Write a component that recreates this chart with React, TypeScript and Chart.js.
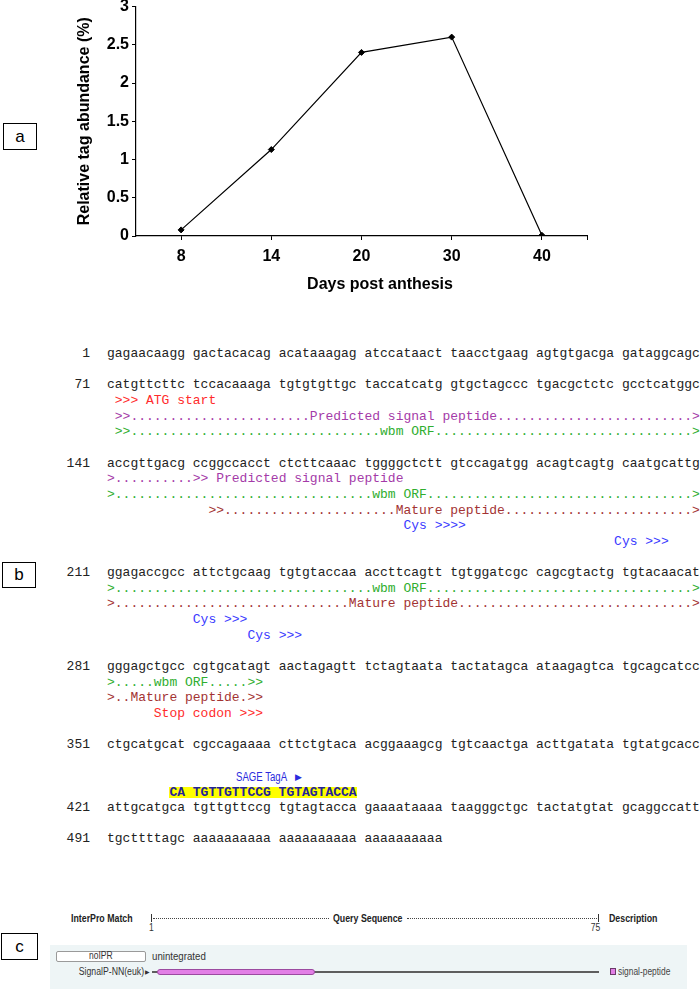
import React, { useEffect, useRef } from 'react';
import { Chart, registerables } from 'chart.js';

Chart.register(...registerables);

// ---------- chart data ----------
const days = ['8', '14', '20', '30', '40'];
const abundance = [0.08, 1.13, 2.4, 2.6, 0.01];
const yMin = 0;
const yMax = 3;
const yStep = 0.5;
const xTitle = 'Days post anthesis';
const yTitle = 'Relative tag abundance (%)';

// ---------- sequence panel data ----------
const seqNumbers = ['1', '71', '141', '211', '281', '351', '421', '491'];
const seqStrings = [
  'gagaacaagg gactacacag acataaagag atccataact taacctgaag agtgtgacga gataggcagc',
  'catgttcttc tccacaaaga tgtgtgttgc taccatcatg gtgctagccc tgacgctctc gcctcatggc',
  'accgttgacg ccggccacct ctcttcaaac tggggctctt gtccagatgg acagtcagtg caatgcattg',
  'ggagaccgcc attctgcaag tgtgtaccaa accttcagtt tgtggatcgc cagcgtactg tgtacaacat',
  'gggagctgcc cgtgcatagt aactagagtt tctagtaata tactatagca ataagagtca tgcagcatcc',
  'ctgcatgcat cgccagaaaa cttctgtaca acggaaagcg tgtcaactga acttgatata tgtatgcacc',
  'attgcatgca tgttgttccg tgtagtacca gaaaataaaa taagggctgc tactatgtat gcaggccatt',
  'tgcttttagc aaaaaaaaaa aaaaaaaaaa aaaaaaaaaa',
];
const seqRows = [0, 2, 7, 14, 20, 25, 29, 31];

const d = (n: number) => '.'.repeat(n);
const sp = (n: number) => ' '.repeat(n);

const annotations: { row: number; text: string; kind: string }[] = [
  { row: 3, text: ' >>> ATG start', kind: 'red' },
  { row: 4, text: ' >>' + d(23) + 'Predicted signal peptide' + d(25) + '>', kind: 'purple' },
  { row: 5, text: ' >>' + d(32) + 'wbm ORF' + d(33) + '>', kind: 'green' },
  { row: 8, text: '>' + d(10) + '>> Predicted signal peptide', kind: 'purple' },
  { row: 9, text: '>' + d(33) + 'wbm ORF' + d(34) + '>', kind: 'green' },
  { row: 10, text: sp(13) + '>>' + d(22) + 'Mature peptide' + d(24) + '>', kind: 'brown' },
  { row: 11, text: sp(38) + 'Cys >>>>', kind: 'blue' },
  { row: 12, text: sp(65) + 'Cys >>>', kind: 'blue' },
  { row: 15, text: '>' + d(33) + 'wbm ORF' + d(34) + '>', kind: 'green' },
  { row: 16, text: '>' + d(30) + 'Mature peptide' + d(30) + '>', kind: 'brown' },
  { row: 17, text: sp(11) + 'Cys >>>', kind: 'blue' },
  { row: 18, text: sp(18) + 'Cys >>>', kind: 'blue' },
  { row: 21, text: '>.....wbm ORF.....>>', kind: 'green' },
  { row: 22, text: '>..Mature peptide.>>', kind: 'brown' },
  { row: 23, text: sp(6) + 'Stop codon >>>', kind: 'red' },
];

const sageLabel = 'SAGE TagA';
const sageTag = 'CA TGTTGTTCCG TGTAGTACCA';

const kindColor: Record<string, string> = {
  red: '#ff2b2b',
  purple: '#a43aa8',
  green: '#2fae2f',
  brown: '#a33333',
  blue: '#3a3aff',
};

const MONO = '"Liberation Mono", "Courier New", monospace';
const SANS = '"Liberation Sans", Arial, sans-serif';
const CH = 7.8;
const SEQ_LEFT = 107;
const ROW0 = 354;
const ROWH = 15.65;
const rowTop = (r: number) => ROW0 + r * ROWH - 8;

function LabelBox({ text, left, top, w, h }: { text: string; left: number; top: number; w: number; h: number }) {
  return (
    <div
      style={{
        position: 'absolute', left, top, width: w, height: h, boxSizing: 'border-box',
        border: '1.5px solid #000', display: 'flex', alignItems: 'center', justifyContent: 'center',
        fontFamily: SANS, fontSize: 17, color: '#000', background: '#fff',
      }}
    >
      {text}
    </div>
  );
}

// condensed sans text (no narrow font installed -> horizontal scaling)
function Narrow({
  children, left, top, size = 11, bold = false, color = '#333', sx = 0.82, right = false,
}: {
  children: React.ReactNode; left: number; top: number; size?: number; bold?: boolean; color?: string; sx?: number; right?: boolean;
}) {
  return (
    <div
      style={{
        position: 'absolute', left, top, fontFamily: SANS, fontSize: size, fontWeight: bold ? 'bold' : 'normal',
        lineHeight: '14px', color, whiteSpace: 'pre', transform: `scaleX(${sx})`,
        transformOrigin: right ? 'right center' : 'left center',
        ...(right ? { left: undefined, right: 700 - left } : {}),
      }}
    >
      {children}
    </div>
  );
}

export default function App() {
  const ref = useRef<HTMLCanvasElement | null>(null);

  useEffect(() => {
    const canvas = ref.current;
    if (!canvas) return;
    const titlePlugin = {
      id: 'extras',
      afterDraw(chart: any) {
        const { ctx, chartArea } = chart;
        ctx.save();
        ctx.strokeStyle = '#000';
        ctx.lineWidth = 1;
        ctx.beginPath();
        ctx.moveTo(chartArea.right + 0.5, chartArea.bottom);
        ctx.lineTo(chartArea.right + 0.5, chartArea.bottom + 4);
        ctx.stroke();
        ctx.fillStyle = '#000';
        ctx.font = 'bold 16px ' + SANS;
        ctx.textAlign = 'center';
        ctx.textBaseline = 'middle';
        ctx.fillText(xTitle, 380, 285);
        ctx.restore();
      },
    };
    const tickFont = { family: SANS, size: 16, weight: 'bold' as const };
    const chart = new Chart(canvas, {
      type: 'line',
      data: {
        labels: days,
        datasets: [
          {
            data: abundance,
            borderColor: '#000',
            borderWidth: 1.2,
            pointStyle: 'rectRot',
            pointRadius: 3,
            pointBackgroundColor: '#000',
            pointBorderColor: '#000',
            pointBorderWidth: 1,
            tension: 0,
            fill: false,
          },
        ],
      },
      options: {
        animation: false,
        responsive: false,
        events: [],
        layout: { padding: { left: 72, right: 113, top: 6.5, bottom: 2 } },
        plugins: { legend: { display: false }, tooltip: { enabled: false } },
        scales: {
          x: {
            type: 'category',
            offset: true,
            grid: { drawOnChartArea: false, drawTicks: true, tickLength: 4, color: '#000', lineWidth: 1 },
            border: { color: '#000', width: 1.2 },
            ticks: { color: '#000', font: tickFont, padding: 7, maxRotation: 0 },
            afterFit: (s: any) => { s.height = 62; s.paddingLeft = 0; s.paddingRight = 0; },
          },
          y: {
            min: yMin,
            max: yMax,
            grid: { drawOnChartArea: false, drawTicks: true, tickLength: 4, color: '#000', lineWidth: 1 },
            border: { color: '#000', width: 1.2 },
            ticks: {
              stepSize: yStep, color: '#000', font: tickFont, padding: 3,
              callback: (v: any) => String(Number(v)),
            },
            title: {
              display: true,
              text: yTitle,
              color: '#000',
              font: { family: SANS, size: 16, weight: 'bold' },
              padding: { top: 3, bottom: 4 },
            },
            afterFit: (s: any) => { s.width = 64; s.paddingTop = 0; s.paddingBottom = 0; },
          },
        },
      },
      plugins: [titlePlugin],
    } as any);
    return () => chart.destroy();
  }, []);

  const monoBase: React.CSSProperties = {
    position: 'absolute', fontFamily: MONO, fontSize: 13, lineHeight: '16px', whiteSpace: 'pre', margin: 0,
  };

  return (
    <div style={{ position: 'absolute', left: 0, top: 0, width: 700, height: 997, background: '#fff', overflow: 'hidden' }}>
      <canvas ref={ref} width={700} height={300} style={{ position: 'absolute', left: 0, top: 0, width: 700, height: 300 }} />
      <LabelBox text="a" left={3} top={123} w={34} h={27} />
      <LabelBox text="b" left={2} top={562} w={34} h={26} />
      <LabelBox text="c" left={1} top={933} w={37} h={27} />

      {seqNumbers.map((n, i) => (
        <div key={'n' + i} style={{ ...monoBase, left: 30, width: 60, textAlign: 'right', top: rowTop(seqRows[i]), color: '#222' }}>{n}</div>
      ))}
      {seqStrings.map((s, i) => (
        <div key={'s' + i} style={{ ...monoBase, left: SEQ_LEFT, top: rowTop(seqRows[i]), color: '#222' }}>{s}</div>
      ))}
      {annotations.map((a, i) => (
        <div key={'a' + i} style={{ ...monoBase, left: SEQ_LEFT, top: rowTop(a.row), color: kindColor[a.kind] }}>{a.text}</div>
      ))}

      <Narrow left={236} top={rowTop(27) + 1} size={12} color="#2b2bdd" sx={0.8}>{sageLabel}</Narrow>
      <div style={{ position: 'absolute', left: 295, top: rowTop(27) + 1, fontFamily: SANS, fontSize: 9, lineHeight: '14px', color: '#2b2bdd' }}>▶</div>
      <div
        style={{
          ...monoBase, left: SEQ_LEFT + 8 * CH, top: rowTop(28) + 2.5, lineHeight: '11px', height: 11,
          background: '#ffff00', color: '#22229a', fontWeight: 'bold',
        }}
      >
        {sageTag}
      </div>

      {/* InterPro panel */}
      <Narrow left={71} top={911} size={11} bold color="#222" sx={0.8}>InterPro Match</Narrow>
      <div style={{ position: 'absolute', left: 151, top: 914, width: 1, height: 8, background: '#333' }} />
      <div style={{ position: 'absolute', left: 153, top: 918, width: 176, height: 0, borderTop: '1px dotted #444' }} />
      <Narrow left={333} top={911} size={11} bold color="#222" sx={0.8}>Query Sequence</Narrow>
      <div style={{ position: 'absolute', left: 407, top: 918, width: 190, height: 0, borderTop: '1px dotted #444' }} />
      <div style={{ position: 'absolute', left: 598, top: 914, width: 1, height: 8, background: '#333' }} />
      <Narrow left={149} top={921} size={10} color="#333" sx={0.85}>1</Narrow>
      <Narrow left={600} top={921} size={10} color="#333" sx={0.85} right>75</Narrow>
      <Narrow left={609} top={911} size={11} bold color="#222" sx={0.8}>Description</Narrow>

      <div style={{ position: 'absolute', left: 50, top: 945, width: 637, height: 44, background: '#eef5f6' }} />
      <div
        style={{
          position: 'absolute', left: 56, top: 951, width: 90, height: 11, boxSizing: 'border-box', background: '#fff',
          border: '1px solid #9a9a9a', borderRadius: 2,
        }}
      />
      <Narrow left={89} top={949} size={10} color="#333" sx={0.85}>noIPR</Narrow>
      <Narrow left={152} top={949} size={11} color="#333" sx={0.88}>unintegrated</Narrow>
      <Narrow left={144} top={965} size={10} color="#333" sx={0.87} right>SignalP-NN(euk)</Narrow>
      <div style={{ position: 'absolute', left: 145, top: 967, fontFamily: SANS, fontSize: 6, lineHeight: '10px', color: '#333' }}>▶</div>
      <div style={{ position: 'absolute', left: 152, top: 971, width: 447, height: 2, background: '#5e5e5e' }} />
      <div style={{ position: 'absolute', left: 157, top: 969, width: 158, height: 6, boxSizing: 'border-box', background: '#e27fe6', border: '1px solid #9b4aa0', borderRadius: 3 }} />
      <div style={{ position: 'absolute', left: 610, top: 968, width: 6, height: 7, boxSizing: 'border-box', background: '#e27fe6', border: '1px solid #6a3a6a' }} />
      <Narrow left={618} top={965} size={10} color="#444" sx={0.84}>signal-peptide</Narrow>
    </div>
  );
}
